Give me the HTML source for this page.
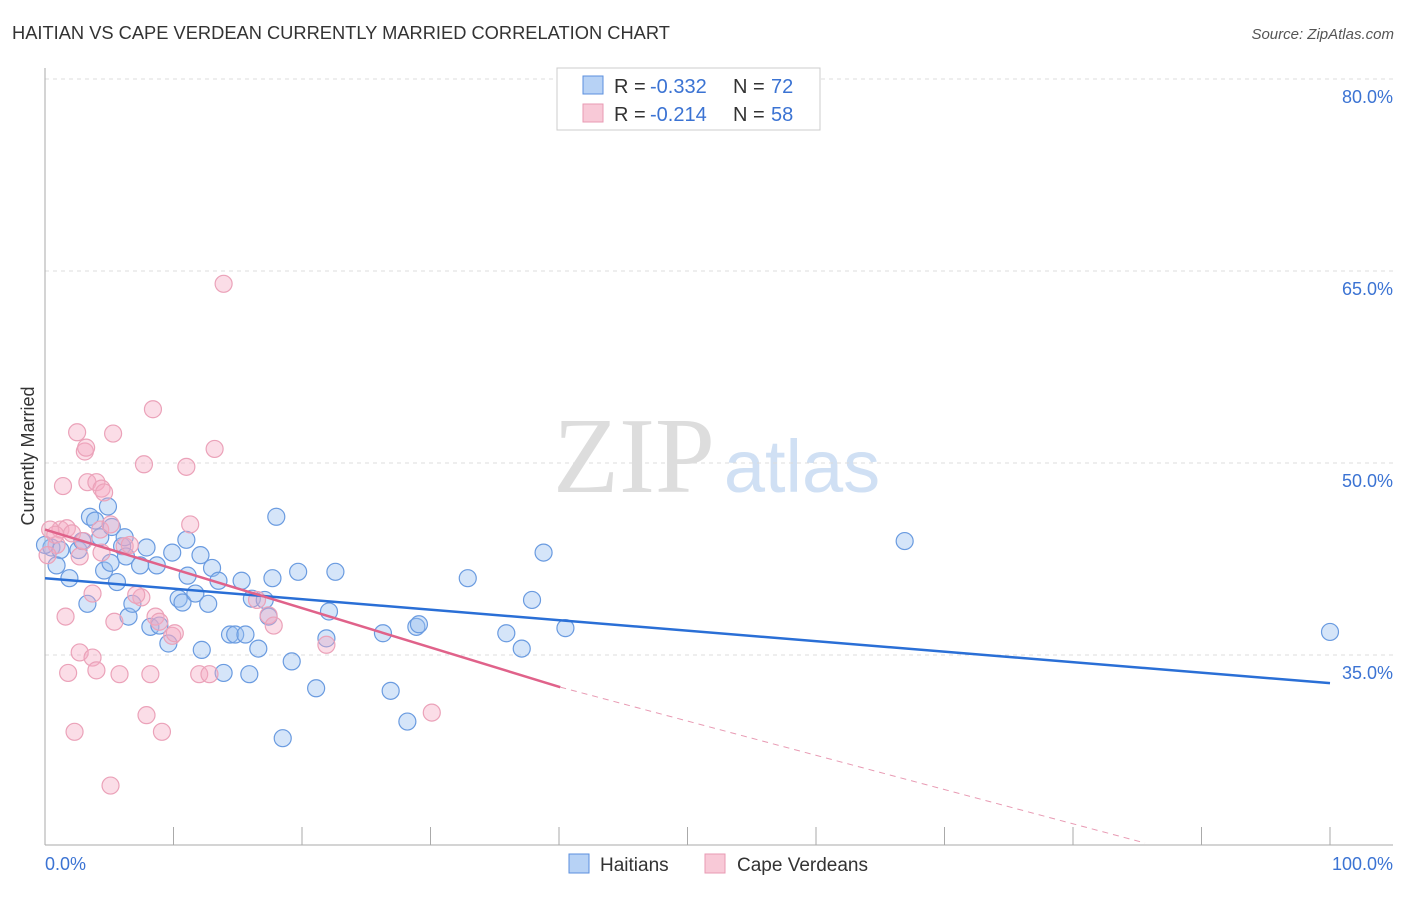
<!DOCTYPE html>
<html><head><meta charset="utf-8"><style>
body{margin:0;background:#fff;font-family:"Liberation Sans",sans-serif;}
</style></head><body>
<svg width="1406" height="892" xmlns="http://www.w3.org/2000/svg" id="svg">
<text x="12" y="39" font-size="18.3" fill="#333">HAITIAN VS CAPE VERDEAN CURRENTLY MARRIED CORRELATION CHART</text>
<text x="1394" y="39" font-size="15" fill="#555" font-style="italic" text-anchor="end">Source: ZipAtlas.com</text>
<text x="634" y="492" font-size="108" fill="#ddd" font-family="Liberation Serif" text-anchor="middle">ZIP</text>
<text x="802" y="492" font-size="74" fill="#d0e0f4" text-anchor="middle">atlas</text>
<text transform="translate(34,456) rotate(-90)" font-size="18" fill="#333" text-anchor="middle">Currently Married</text>
<g id="grid"></g><g id="pts"></g><g id="lines"></g>
<g>
<rect x="557" y="68" width="263" height="62" fill="#fff" stroke="#ccc"/>
<rect x="583" y="76" width="20" height="18" fill="#b7d2f5" stroke="#5b8fde"/>
<text x="614" y="93" font-size="20" fill="#333">R =</text>
<text x="650" y="93" font-size="20" fill="#3b73d3">-0.332</text>
<text x="733" y="93" font-size="20" fill="#333">N =</text>
<text x="771" y="93" font-size="20" fill="#3b73d3">72</text>
<rect x="583" y="104" width="20" height="18" fill="#f8c9d7" stroke="#e89ab3"/>
<text x="614" y="121" font-size="20" fill="#333">R =</text>
<text x="650" y="121" font-size="20" fill="#3b73d3">-0.214</text>
<text x="733" y="121" font-size="20" fill="#333">N =</text>
<text x="771" y="121" font-size="20" fill="#3b73d3">58</text>
</g>
<g>
<rect x="569" y="854" width="20" height="19" fill="#b7d2f5" stroke="#5b8fde"/>
<text x="600" y="871" font-size="19" fill="#333">Haitians</text>
<rect x="705" y="854" width="20" height="19" fill="#f8c9d7" stroke="#e89ab3"/>
<text x="737" y="871" font-size="19" fill="#333">Cape Verdeans</text>
</g>
</svg>
<script>
const yTicks=[80,65,50,35];
const yTickLabels=["80.0%","65.0%","50.0%","35.0%"];
const xTickLabels=["0.0%","100.0%"];
const blueX=[0.5,1.2,1.9,2.6,2.9,3.3,3.5,3.9,4.3,4.6,4.9,5.2,5.6,6.0,6.3,6.5,6.8,7.4,7.9,8.2,8.7,8.9,9.6,9.9,10.4,10.7,11.0,11.1,11.7,12.1,12.2,12.7,13.0,13.5,13.9,14.4,14.8,15.3,15.6,15.9,16.1,16.6,17.1,17.4,17.7,18.0,19.2,19.7,21.1,21.9,22.1,22.6,26.3,26.9,28.2,28.9,29.1,32.9,35.9,37.1,37.9,38.8,40.5,66.9,100,18.5,0.9,0,5.1,6.2];
const blueY=[43.4,43.2,41.0,43.2,43.9,39.0,45.8,45.5,44.2,41.6,46.6,45.0,40.7,43.5,42.7,38.0,39.0,42.0,43.4,37.2,42.0,37.3,35.9,43.0,39.4,39.1,44.0,41.2,39.8,42.8,35.4,39.0,41.8,40.8,33.6,36.6,36.6,40.8,36.6,33.5,39.4,35.5,39.3,38.0,41.0,45.8,34.5,41.5,32.4,36.3,38.4,41.5,36.7,32.2,29.8,37.2,37.4,41.0,36.7,35.5,39.3,43.0,37.1,43.9,36.8,28.5,42.0,43.6,42.2,44.2];
const pinkX=[1.4,2.5,3.1,3.2,3.3,4.0,4.4,4.6,0.9,1.2,1.7,2.1,2.7,3.0,3.7,4.3,5.1,6.2,6.6,5.4,7.5,8.6,8.9,9.9,13.2,13.9,8.4,7.7,11.0,5.3,11.3,1.6,1.8,2.7,3.7,4.0,5.8,8.2,12.0,12.8,7.9,9.1,2.3,5.1,17.4,17.8,21.9,30.1,16.5,0.2,0.4,0.8,4.4,7.1,10.1];
const pinkY=[48.2,52.4,50.9,51.2,48.5,48.5,48.0,47.7,43.6,44.8,44.9,44.5,42.7,43.9,39.8,44.8,45.2,43.5,43.6,37.6,39.5,38.0,37.6,36.5,51.1,64.0,54.2,49.9,49.7,52.3,45.2,38.0,33.6,35.2,34.8,33.8,33.5,33.5,33.5,33.5,30.3,29.0,29.0,24.8,38.1,37.3,35.8,30.5,39.3,42.8,44.8,44.4,43.0,39.7,36.7];
const blueLine=[41.0,32.8];
const pinkLine=[44.8,-0.307];
const X=v=>45+v*12.85, Y=v=>79+(80-v)*12.8;
const NS="http://www.w3.org/2000/svg";
function mk(t,a,p){const e=document.createElementNS(NS,t);for(const k in a)e.setAttribute(k,a[k]);p.appendChild(e);return e;}
const grid=document.getElementById('grid');
yTicks.forEach((t,i)=>{
 const l=mk('line',{x1:45,x2:1393,y1:Y(t),y2:Y(t),stroke:'#ddd','stroke-dasharray':'4,4'},grid);
 
 
 const tx=mk('text',{x:1393,y:Y(t)+24,'font-size':18,fill:'#3b73d3','text-anchor':'end'},grid);
 tx.textContent=yTickLabels[i];
 
 
});
mk('line',{x1:45,x2:45,y1:68,y2:845,stroke:'#aaa'},grid);
mk('line',{x1:45,x2:1393,y1:845,y2:845,stroke:'#aaa'},grid);
for(let i=0;i<=10;i++){const t=mk('line',{x1:X(i*10),x2:X(i*10),y1:827,y2:845,stroke:'#aaa'},grid);
 
 }
[[0,'start',45],[1,'end',1393]].forEach(([i,a,x])=>{const tx=mk('text',{x:x,y:870,'font-size':18,fill:'#3b73d3','text-anchor':a},grid);tx.textContent=xTickLabels[i];
 
 });
const pts=document.getElementById('pts');
blueX.forEach((x,i)=>{const c=mk('circle',{cx:X(x),cy:Y(blueY[i]),r:8.5,fill:'rgba(150,190,240,0.4)',stroke:'#6a9be0','stroke-width':1.2},pts);
 
 });
pinkX.forEach((x,i)=>{const c=mk('circle',{cx:X(x),cy:Y(pinkY[i]),r:8.5,fill:'rgba(245,170,195,0.4)',stroke:'#eba2b9','stroke-width':1.2},pts);
 
 });
const lines=document.getElementById('lines');
const bl=mk('line',{x1:X(0),y1:Y(blueLine[0]),x2:X(100),y2:Y(blueLine[1]),stroke:'#2a6fd6','stroke-width':2.5},lines);


const pe=40.1;
const pl=mk('line',{x1:X(0),y1:Y(pinkLine[0]),x2:X(pe),y2:Y(pinkLine[0]+pinkLine[1]*pe),stroke:'#e0628a','stroke-width':2.5},lines);


const pdl=mk('line',{x1:X(pe),y1:Y(pinkLine[0]+pinkLine[1]*pe),x2:1145,y2:843,stroke:'#e89ab3','stroke-width':1,'stroke-dasharray':'6,5'},lines);


</script>
</body></html>
